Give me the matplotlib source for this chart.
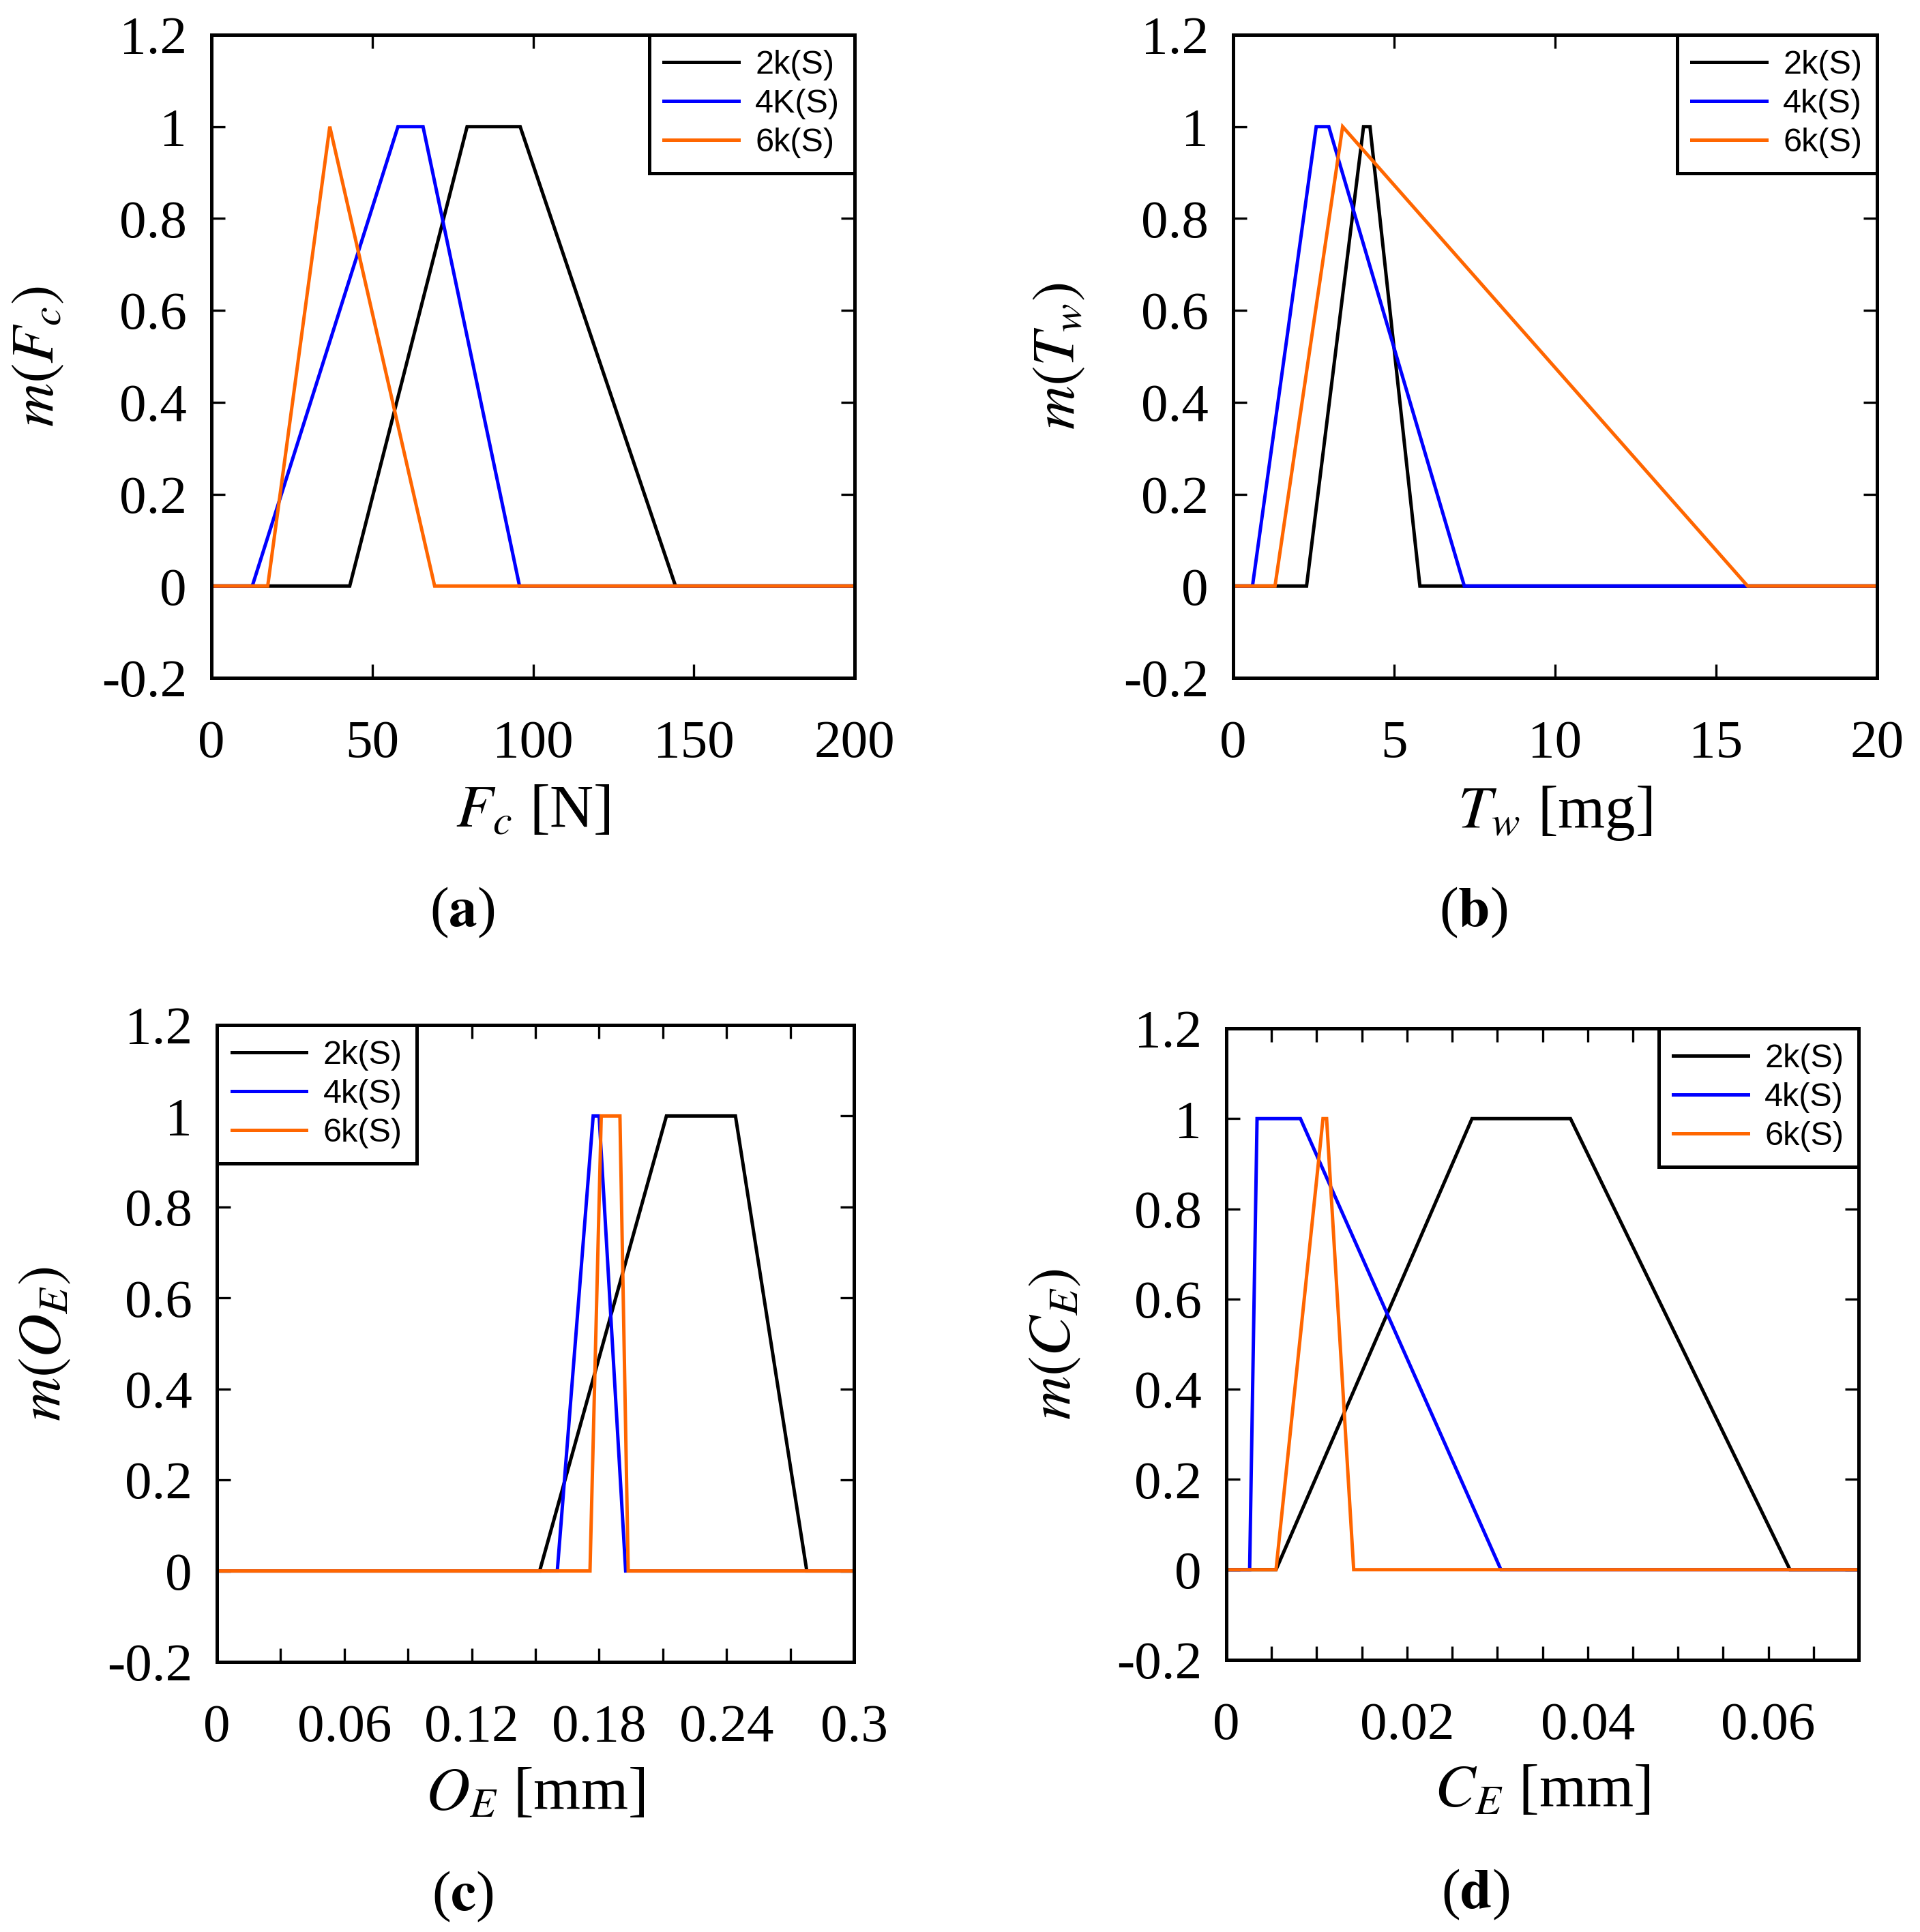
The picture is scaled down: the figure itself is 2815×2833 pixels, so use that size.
import matplotlib
matplotlib.use('Agg')
import matplotlib.pyplot as plt

plt.rcParams['font.family'] = 'Liberation Serif'
plt.rcParams['mathtext.fontset'] = 'stix'
plt.rcParams['axes.unicode_minus'] = False

# ---- data (breakpoints of the membership functions) ----
# (a) cutting force Fc [N]
fc_2k_x = [0, 43.0, 79.5, 96.0, 144.3, 200]
fc_2k_y = [0, 0, 1, 1, 0, 0]
fc_4k_x = [0, 12.7, 58.0, 65.8, 95.8, 200]
fc_4k_y = [0, 0, 1, 1, 0, 0]
fc_6k_x = [0, 17.5, 36.8, 69.4, 200]
fc_6k_y = [0, 0, 1, 0, 0]

# (b) tool wear Tw [mg]
tw_2k_x = [0, 2.28, 4.05, 4.25, 5.80, 20]
tw_2k_y = [0, 0, 1, 1, 0, 0]
tw_4k_x = [0, 0.60, 2.58, 2.97, 7.18, 20]
tw_4k_y = [0, 0, 1, 1, 0, 0]
tw_6k_x = [0, 1.30, 3.40, 15.98, 20]
tw_6k_y = [0, 0, 1, 0, 0]

# (c) overcut error OE [mm]
oe_2k_x = [0, 0.152, 0.2117, 0.2442, 0.2778, 0.3]
oe_2k_y = [0, 0, 1, 1, 0, 0]
oe_4k_x = [0, 0.1603, 0.1772, 0.1800, 0.1925, 0.3]
oe_4k_y = [0, 0, 1, 1, 0, 0]
oe_6k_x = [0, 0.1757, 0.1810, 0.1898, 0.1937, 0.3]
oe_6k_y = [0, 0, 1, 1, 0, 0]

# (d) circularity error CE [mm]
ce_2k_x = [0, 0.0055, 0.0272, 0.0381, 0.0624, 0.07]
ce_2k_y = [0, 0, 1, 1, 0, 0]
ce_4k_x = [0, 0.00258, 0.0034, 0.0082, 0.0304, 0.07]
ce_4k_y = [0, 0, 1, 1, 0, 0]
ce_6k_x = [0, 0.0055, 0.0107, 0.0111, 0.0141, 0.07]
ce_6k_y = [0, 0, 1, 1, 0, 0]

labels_a = ['2k(S)', '4K(S)', '6k(S)']
labels_std = ['2k(S)', '4k(S)', '6k(S)']
colors = ['black', '#0000ff', '#ff6600']

yticks = [-0.2, 0, 0.2, 0.4, 0.6, 0.8, 1.0, 1.2]
ytick_labels = ['-0.2', '0', '0.2', '0.4', '0.6', '0.8', '1', '1.2']

xticks_a = [0, 50, 100, 150, 200]
xlabels_a = ['0', '50', '100', '150', '200']
xticks_b = [0, 5, 10, 15, 20]
xlabels_b = ['0', '5', '10', '15', '20']
xticks_c = [0, 0.03, 0.06, 0.09, 0.12, 0.15, 0.18, 0.21, 0.24, 0.27, 0.3]
xlabels_c = ['0', '', '0.06', '', '0.12', '', '0.18', '', '0.24', '', '0.3']
xticks_d = [i * 0.005 for i in range(15)]
xlabels_d = ['0', '', '', '', '0.02', '', '', '', '0.04', '', '', '', '0.06', '', '']

W, H = 2815, 2833
fig = plt.figure(figsize=(W / 200, H / 200), dpi=200)

LW = 1.8
TICKFS = 28.5
LABFS = 32


def panel(rect, xs, ys, labels, xlim, xticks, xlabels, xlabel, ylabel, loc, tag, tagx):
    ax = fig.add_axes(rect)
    for x, y, lab, c in zip(xs, ys, labels, colors):
        ax.plot(x, y, color=c, lw=LW, label=lab, solid_joinstyle='miter')
    ax.set_xlim(xlim)
    ax.set_ylim(-0.2, 1.2)
    ax.set_xticks(xticks)
    ax.set_xticklabels(xlabels)
    ax.set_yticks(yticks)
    ax.set_yticklabels(ytick_labels)
    ax.tick_params(direction='in', top=True, right=True, length=7.2, width=1.2,
                   labelsize=TICKFS)
    ax.tick_params(axis='x', pad=22)
    ax.tick_params(axis='y', pad=13)
    for s in ax.spines.values():
        s.set_linewidth(1.8)
    ax.set_xlabel(xlabel, fontsize=LABFS)
    ax.set_ylabel(ylabel, fontsize=LABFS)
    ax.xaxis.set_label_coords(0.5, -0.165)
    ax.yaxis.set_label_coords(-0.226, 0.5)
    leg = ax.legend(loc=loc, borderaxespad=0, fancybox=False, framealpha=1,
                    edgecolor='black', prop={'family': 'Liberation Sans', 'size': 17.5},
                    handlelength=2.25, handletextpad=0.5, labelspacing=0.25,
                    borderpad=0.45)
    leg.get_frame().set_linewidth(1.8)
    for ln in leg.get_lines():
        ln.set_linewidth(LW)
    fig.text(tagx, rect[1] - 364 / H, '(' + r'$\mathbf{' + tag + '}$' + ')',
             fontsize=30, ha='center', va='baseline')
    return ax


panel([310 / W, 1 - 994 / H, 943 / W, 943 / H],
      [fc_2k_x, fc_4k_x, fc_6k_x], [fc_2k_y, fc_4k_y, fc_6k_y], labels_a,
      (0, 200), xticks_a, xlabels_a, r'$F_c$ [N]', r'$m(F_c)$', 'upper right', 'a', 678 / W)
panel([1808 / W, 1 - 994 / H, 944 / W, 943 / H],
      [tw_2k_x, tw_4k_x, tw_6k_x], [tw_2k_y, tw_4k_y, tw_6k_y], labels_std,
      (0, 20), xticks_b, xlabels_b, r'$T_w$ [mg]', r'$m(T_w)$', 'upper right', 'b', 2160 / W)
panel([318 / W, 1 - 2437 / H, 934 / W, 934 / H],
      [oe_2k_x, oe_4k_x, oe_6k_x], [oe_2k_y, oe_4k_y, oe_6k_y], labels_std,
      (0, 0.3), xticks_c, xlabels_c, r'$O_E$ [mm]', r'$m(O_E)$', 'upper left', 'c', 678 / W)
panel([1798 / W, 1 - 2434 / H, 927 / W, 926 / H],
      [ce_2k_x, ce_4k_x, ce_6k_x], [ce_2k_y, ce_4k_y, ce_6k_y], labels_std,
      (0, 0.07), xticks_d, xlabels_d, r'$C_E$ [mm]', r'$m(C_E)$', 'upper right', 'd', 2163 / W)

fig.savefig('out.png', dpi=200)
